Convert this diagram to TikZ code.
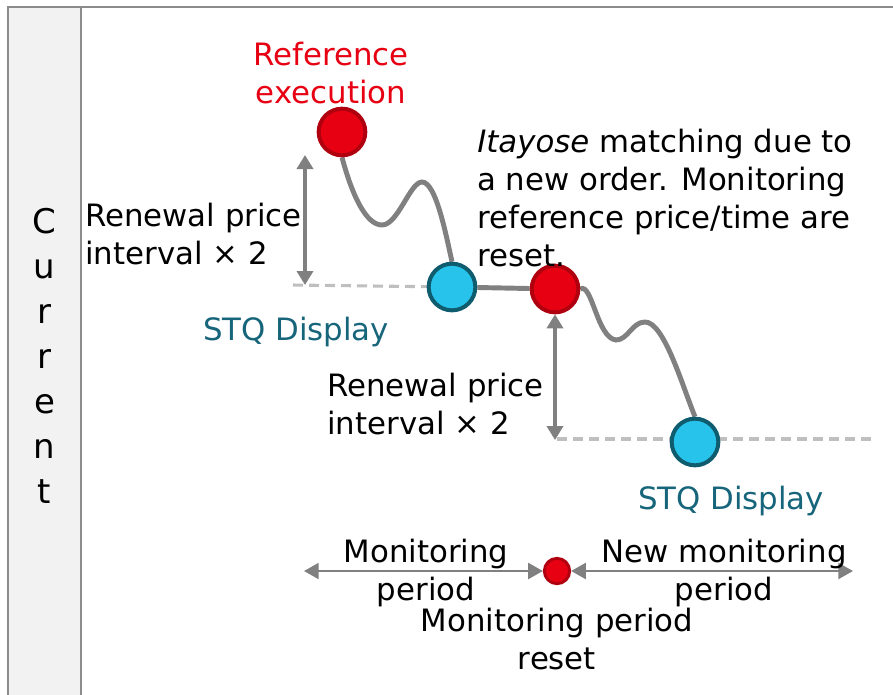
\documentclass[tikz,border=0pt]{standalone}
\usepackage{fontspec}
\setmainfont{DejaVu Sans}
\usetikzlibrary{arrows.meta,backgrounds}
\definecolor{linegray}{HTML}{808080}
\definecolor{dashgray}{HTML}{BFBFBF}
\definecolor{framegray}{HTML}{8C8C8C}
\definecolor{panelfill}{HTML}{F2F2F2}
\definecolor{redfill}{HTML}{E60012}
\definecolor{redline}{HTML}{B0000F}
\definecolor{cyanfill}{HTML}{28C3EA}
\definecolor{tealline}{HTML}{0F5C6E}
\definecolor{tealtext}{HTML}{17657A}
\tikzset{
  redc/.style={circle, fill=redfill, draw=redline, line width=3pt, minimum size=35pt, inner sep=0pt},
  bluec/.style={circle, fill=cyanfill, draw=tealline, line width=3pt, minimum size=35pt, inner sep=0pt},
  smalldot/.style={circle, fill=redfill, draw=redline, line width=2.2pt, minimum size=19pt, inner sep=0pt},
  curve/.style={draw=linegray, line width=3.7pt},
  guide/.style={draw=dashgray, line width=2.3pt, dash pattern=on 7.5pt off 4.5pt},
  dimarrow/.style={draw=linegray, fill=linegray, line width=3pt, {Triangle[length=10.5pt,width=12pt]}-{Triangle[length=10.5pt,width=12pt]}},
  perarrow/.style={draw=linegray, fill=linegray, line width=1.5pt, {Triangle[length=11pt,width=12pt]}-{Triangle[length=11pt,width=12pt]}},
  txt/.style={inner sep=0pt, align=left},
  frameline/.style={draw=framegray, line width=2.2pt}
}
\begin{document}
\begin{tikzpicture}[x=0.75pt, y=-0.75pt, font=\fontsize{23.1}{28.5}\selectfont]
\useasboundingbox (0,0) rectangle (893,694);
% frame
\fill[panelfill] (8,7) rectangle (81,700);
\draw[frameline] (8,700) -- (8,7) -- (900,7);
\draw[frameline] (81,7) -- (81,700);
\node[inner sep=0pt, align=center, anchor=base, font=\fontsize{25.5}{33.75}\selectfont] (cur) at (44.5,503) {C\\u\\r\\r\\e\\n\\t};

% circles
\node[redc] (r1) at (342,132) {};
\node[bluec] (b1) at (452,287) {};
\node[redc] (r2) at (555,289) {};
\node[bluec] (b2) at (695,442) {};
\node[smalldot] (d) at (557,571) {};

% helper points
\coordinate (t1) at (382,225);
\coordinate (p1) at (422,182);
\coordinate (t2) at (616,340);
\coordinate (p2) at (645,322);
\coordinate (a1top) at (305,155);
\coordinate (a1bot) at (305,285);
\coordinate (dl1) at (293,285);
\coordinate (a2bot) at (555,440);
\coordinate (dl2a) at (557,439);
\coordinate (dl2b) at (873,439);
\coordinate (ml) at (304,571);
\coordinate (mr) at (853,571);

\begin{pgfonlayer}{background}
\draw[guide] (dl1) -- (b1.center);
\draw[guide] (dl2a) -- (dl2b);
\draw[curve] (r1.south) .. controls (352,195) and (366,225) .. (t1)
  .. controls (398,225) and (410,182) .. (p1)
  .. controls (436,182) and (446,235) .. (b1.north);
\draw[curve] (b1) -- (r2);
\draw[curve] (r2.east) .. controls (592,282) and (597,338) .. (t2)
  .. controls (628,340) and (632,322) .. (p2)
  .. controls (664,322) and (682,385) .. (b2.north);
\end{pgfonlayer}

% dimension arrows
\draw[dimarrow] (a1top) -- (a1bot);
\draw[dimarrow] (r2.south) -- (a2bot);
\draw[perarrow] (ml) -- (d.west);
\draw[perarrow] (d.east) -- (mr);

% texts (base anchor = baseline of the last line)
\node[txt, align=center, anchor=base, text=redfill] (reftxt) at (331,103) {Reference\\execution};
\node[txt, anchor=base west] (ren1) at (85,264) {Renewal price\\interval × 2};
\node[txt, anchor=base, text=tealtext] (stq1) at (296,340) {STQ Display};
\node[txt, anchor=base west] (ita) at (477,266) {\textit{Itayose} matching due to\\a new order. Monitoring\\reference price/time are\\reset.};
\node[txt, anchor=base west] (ren2) at (327,434) {Renewal price\\interval × 2};
\node[txt, anchor=base, text=tealtext] (stq2) at (731,509) {STQ Display};
\node[txt, align=center, anchor=base] (mp) at (426,600) {Monitoring\\period};
\node[txt, align=center, anchor=base] (nmp) at (724,600) {New monitoring\\period};
\node[txt, align=center, anchor=base] (mpr) at (557,669) {Monitoring period\\reset};
\end{tikzpicture}
\end{document}
